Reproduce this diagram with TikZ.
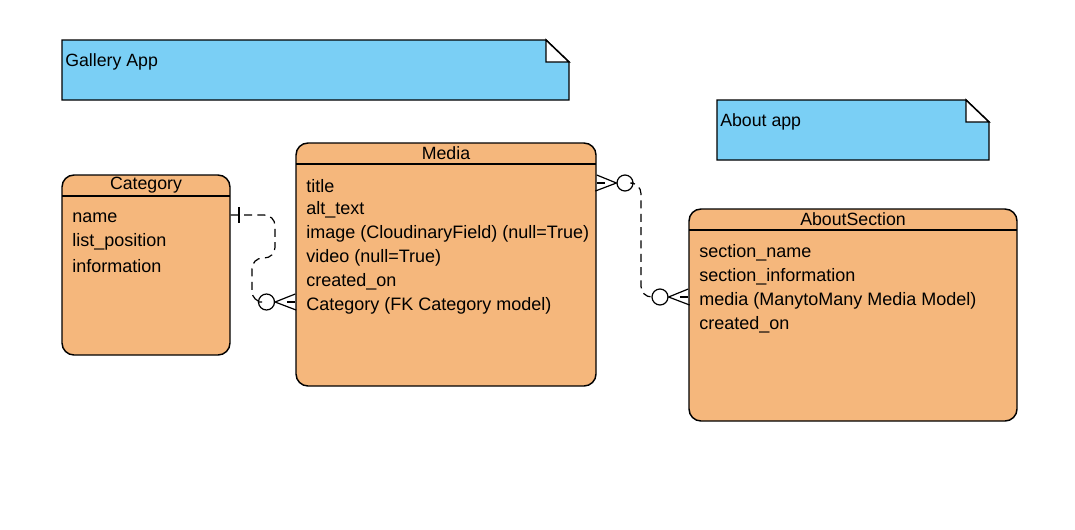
\documentclass[tikz,border=0pt]{standalone}
\usepackage{fontspec}
\setmainfont{Liberation Sans}
\usetikzlibrary{calc,fit}
\definecolor{notefill}{RGB}{122,207,245}
\definecolor{entfill}{RGB}{245,183,124}
\tikzset{
  entity/.style={draw, line width=1.1pt, rounded corners=9pt, fill=entfill, inner sep=0pt},
  hdr/.style={line width=0.9pt},
  ttl/.style={font=\fontsize{13.3}{15}\selectfont, inner sep=0pt},
  fld/.style={font=\fontsize{13.5}{15}\selectfont, anchor=west, inner sep=0pt},
  note/.style={draw, line width=1.1pt, fill=notefill},
  fold/.style={draw, line width=1.1pt, fill=white},
  notetxt/.style={font=\fontsize{13.3}{15}\selectfont, anchor=west, inner sep=0pt},
  rel/.style={line width=0.9pt, dash pattern=on 6pt off 4pt, rounded corners=8pt},
  crow/.style={line width=0.9pt},
  ring/.style={circle, draw, line width=0.9pt, fill=white, minimum size=12pt, inner sep=0pt}
}

\begin{document}
\begin{tikzpicture}[x=0.75pt, y=-0.75pt]
\useasboundingbox (0,0) rectangle (1075,529);
% notes
\draw[note] (62,40) -- (546,40) -- (569,62) -- (569,100) -- (62,100) -- cycle;
\draw[fold] (546,40) -- (546,62) -- (569,62) -- cycle;
\node[notetxt] (gal) at (65,61.5) {Gallery App};
\draw[note] (717,100) -- (966,100) -- (989,122) -- (989,160) -- (717,160) -- cycle;
\draw[fold] (966,100) -- (966,122) -- (989,122) -- cycle;
\node[notetxt] (abt) at (720,121.5) {About app};
% entities
\node[entity, fit={(62,175) (230,355)}] (cat) {};
\draw[hdr] (62,196) -- (230,196);
\node[ttl] at (146,185.5) {Category};
\node[fld] (cname) at (72,218) {name};
\node[fld] (cpos) at (72,242) {list\_position};
\node[fld] (cinfo) at (72,266) {information};

\node[entity, fit={(296,143) (596,386)}] (media) {};
\draw[hdr] (296,164) -- (596,164);
\node[ttl] at (446,153.5) {Media};
\node[fld] (mtitle) at (306,186) {title};
\node[fld] (malt) at (306,210) {alt\_text};
\node[fld] (mimg) at (306,234) {image (CloudinaryField) (null=True)};
\node[fld] (mvid) at (306,258) {video (null=True)};
\node[fld] (mcreated) at (306,282) {created\_on};
\node[fld] (mcat) at (306,306) {Category (FK Category model)};

\node[entity, fit={(689,209) (1017,421)}] (about) {};
\draw[hdr] (689,230) -- (1017,230);
\node[ttl] at (853,219.5) {AboutSection};
\node[fld] (aname) at (699,253) {section\_name};
\node[fld] (ainfo) at (699,277) {section\_information};
\node[fld] (amedia) at (699,301) {media (ManytoMany Media Model)};
\node[fld] (acreated) at (699,325) {created\_on};

% Category -- Media
\node[ring] (c1) at (266.5,302) {};
\draw[rel] (cat.east |- 0,215) -- (275,215) -- (275,258) -- (252,258) -- (252,302) -- (c1.west);
\draw[crow] (239,207) -- (239,223);
\draw[crow] (media.west |- c1) ++(0,-8) -- (c1.east) -- ++(21,8);
\draw[crow] (media.west |- c1) -- ++(-8,0);

% Media -- AboutSection
\node[ring] (c2) at (625,183) {};
\node[ring] (c3) at (660,297) {};
\draw[rel] (c2.east) -- (641,183) -- (641,297) -- (c3.west);
\draw[crow] (media.east |- c2) ++(0,-8) -- (c2.west) -- ++(-21,8);
\draw[crow] (media.east |- c2) -- ++(8,0);
\draw[crow] (about.west |- c3) ++(0,-8) -- (c3.east) -- ++(21,8);
\draw[crow] (about.west |- c3) -- ++(-8,0);
\end{tikzpicture}
\end{document}
